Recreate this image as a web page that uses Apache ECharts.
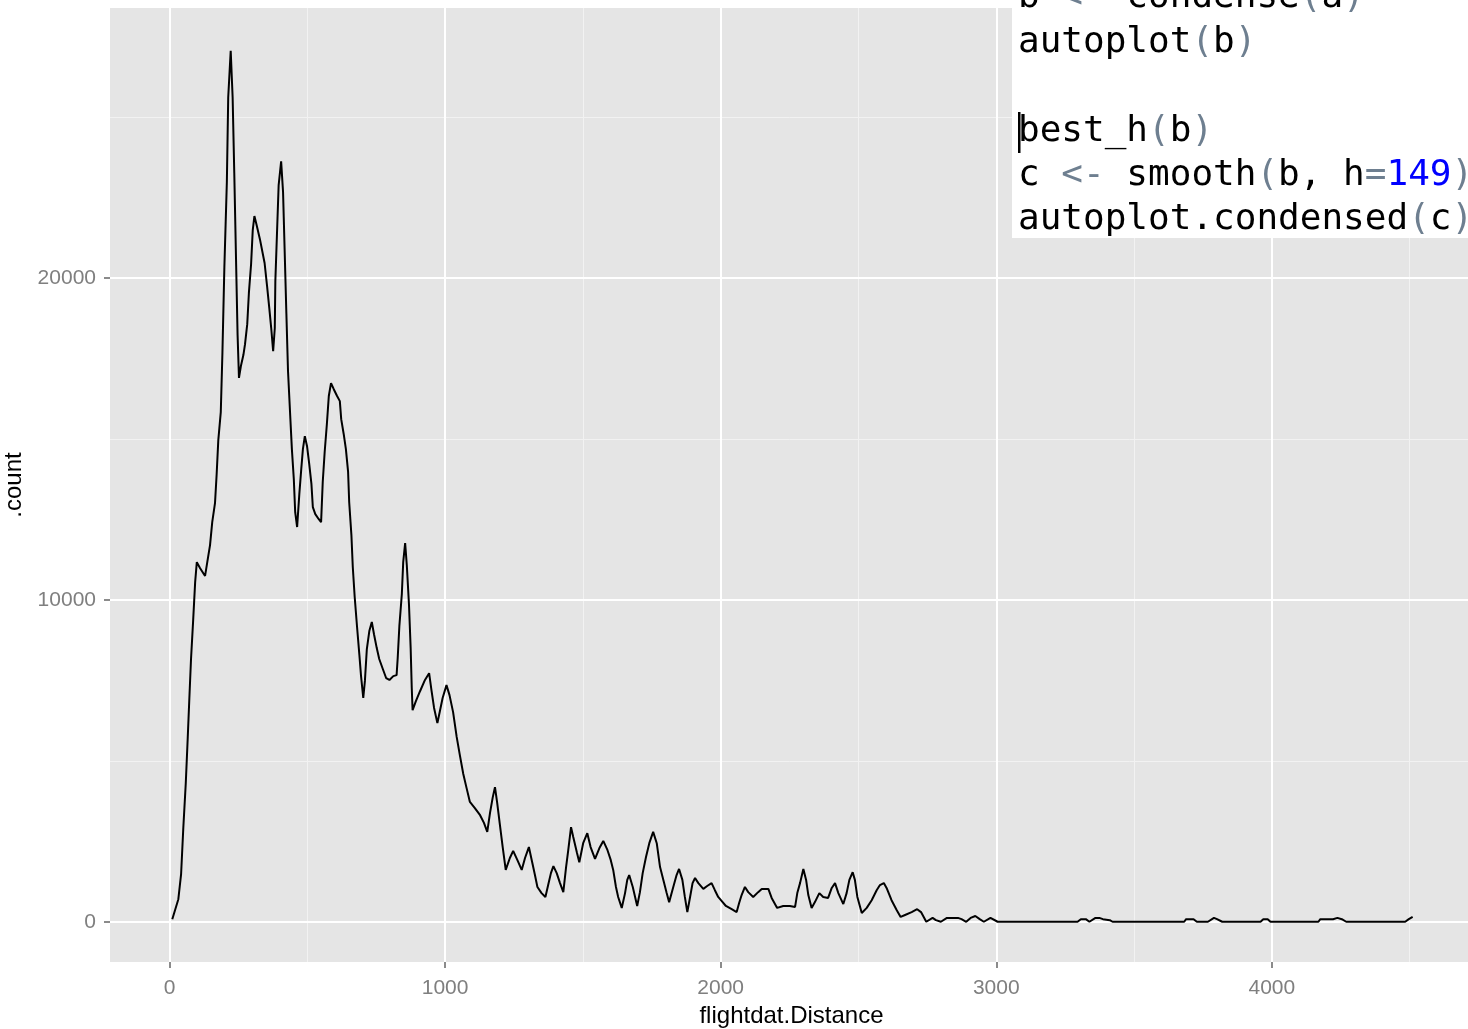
<!DOCTYPE html>
<html><head><meta charset="utf-8">
<script src="https://cdn.jsdelivr.net/npm/echarts@6/dist/echarts.min.js"></script>
<style>html,body{margin:0;padding:0;background:#fff}#c{width:1468px;height:1029px}</style>
</head><body><div id="c"></div>
<script>
// ---- data ----
const distance = [10,32,42,50,59,66,72,78,86,93,99,111,129,137,147,155,165,171,177,186,192,199,208,213,222,229,235,241,247,252,259,268,274,282,288,296,302,308,316,328,345,354,362,369,376,382,384,390,396,405,412,418,424,430,438,444,451,456,463,471,478,484,491,499,507,515,520,529,541,550,556,563,571,578,586,596,608,618,623,632,640,648,652,660,665,672,680,689,695,703,709,716,725,734,742,752,761,774,786,798,812,824,828,834,843,848,855,861,869,875,879,882,894,909,927,942,951,960,972,981,991,1005,1016,1029,1042,1054,1066,1078,1090,1108,1127,1141,1153,1163,1173,1181,1189,1199,1209,1220,1235,1247,1262,1278,1290,1304,1316,1326,1335,1350,1364,1374,1384,1393,1405,1417,1429,1439,1447,1457,1465,1478,1487,1501,1516,1528,1544,1560,1574,1589,1601,1610,1620,1628,1641,1653,1661,1668,1681,1697,1707,1717,1729,1741,1755,1768,1780,1792,1804,1813,1828,1840,1849,1861,1870,1879,1889,1898,1907,1919,1937,1951,1967,1979,1991,2004,2019,2040,2058,2067,2076,2088,2100,2118,2136,2149,2173,2185,2205,2227,2251,2270,2278,2288,2300,2310,2318,2330,2342,2358,2372,2390,2403,2415,2427,2445,2457,2467,2479,2487,2496,2512,2530,2548,2566,2578,2592,2602,2620,2639,2653,2669,2693,2713,2727,2746,2769,2781,2799,2821,2861,2874,2891,2907,2924,2940,2955,2979,3005,3295,3307,3325,3338,3360,3374,3387,3412,3422,3682,3689,3716,3728,3768,3790,3801,3820,3959,3969,3985,3995,4169,4176,4222,4238,4254,4270,4484,4497,4511];
const count = [80,700,1480,2910,4310,5700,6950,8160,9400,10550,11170,10980,10740,11170,11700,12410,13000,13900,14960,15830,17690,20330,22970,25610,27050,25610,23250,20710,18220,16890,17260,17600,17940,18560,19530,20430,21480,21920,21640,21200,20460,19740,19060,18440,17720,18440,19900,21390,22880,23620,22660,20770,18900,17100,15710,14680,13750,12720,12260,13280,14060,14680,15080,14770,14210,13590,12880,12660,12510,12410,13660,14590,15460,16330,16730,16540,16330,16170,15610,15150,14680,13970,13030,12010,11020,10080,9210,8280,7630,6950,7480,8470,9030,9310,8930,8500,8160,7850,7570,7510,7630,7660,8190,9180,10180,11170,11760,11080,9840,8500,7260,6570,6850,7160,7510,7720,7160,6640,6170,6540,6950,7350,7040,6510,5740,5150,4590,4150,3720,3530,3310,3070,2790,3380,3870,4180,3690,3000,2320,1610,1980,2200,1920,1610,1980,2320,1850,1450,1080,890,770,1140,1510,1730,1510,1200,920,1700,2230,2940,2630,2160,1850,2440,2750,2320,1950,2290,2510,2230,1920,1610,1080,770,430,890,1300,1450,1080,490,920,1510,2010,2440,2790,2440,1700,1300,890,610,1080,1450,1640,1300,770,300,770,1200,1360,1200,1020,1110,1200,980,770,640,490,390,300,580,830,1080,920,770,920,1020,1020,740,430,490,490,460,890,1200,1640,1300,830,430,610,890,770,740,1050,1200,890,550,890,1300,1540,1300,770,270,430,670,980,1140,1200,1050,670,360,150,210,300,390,300,0,120,50,0,120,120,80,0,120,180,80,0,120,0,0,80,80,0,120,120,80,50,0,0,80,80,0,0,120,80,0,0,80,80,0,0,80,80,120,80,0,0,80,150];
const xMajorTicks = [0, 1000, 2000, 3000, 4000];
const xMinorTicks = [500, 1500, 2500, 3500, 4500];
const yMajorTicks = [0, 10000, 20000];
const yMinorTicks = [5000, 15000, 25000];
const xTitle = 'flightdat.Distance';
const yTitle = '.count';
// code overlay lines (rich-text markup: n = plain, p = punctuation, b = number)
const codeLines = [
  '{n|b }{p|<-}{n| condense}{p|(}{n|a}{p|)}',
  '{n|autoplot}{p|(}{n|b}{p|)}',
  '',
  '{n|best_h}{p|(}{n|b}{p|)}',
  '{n|c }{p|<-}{n| smooth}{p|(}{n|b, h}{p|=}{b|149}{p|)}',
  '{n|autoplot.condensed}{p|(}{n|c}{p|)}'
];

const chart = echarts.init(document.getElementById('c'), null, {renderer: 'canvas'});
const sans = 'Liberation Sans, Arial, sans-serif';
const mono = 'DejaVu Sans Mono, Liberation Mono, monospace';
const tickGrey = '#7F7F7F';

const gridLines = [];
xMinorTicks.forEach(v => gridLines.push({xAxis: v, lineStyle: {color: '#F2F2F2', width: 1, type: 'solid'}}));
yMinorTicks.forEach(v => gridLines.push({yAxis: v, lineStyle: {color: '#F2F2F2', width: 1, type: 'solid'}}));
xMajorTicks.forEach(v => gridLines.push({xAxis: v, lineStyle: {color: '#FFFFFF', width: 2, type: 'solid'}}));
yMajorTicks.forEach(v => gridLines.push({yAxis: v, lineStyle: {color: '#FFFFFF', width: 2, type: 'solid'}}));

const richStyles = {
  n: {fill: '#000000', fontSize: 36, fontFamily: mono},
  p: {fill: '#6E7F90', fontSize: 36, fontFamily: mono},
  b: {fill: '#0000FF', fontSize: 36, fontFamily: mono}
};
const lineY = [-2, 43, 88, 132, 176, 220];
const graphics = [
  {type: 'rect', z: 100, shape: {x: 1012, y: 0, width: 470, height: 238}, style: {fill: '#FFFFFF'}}
];
codeLines.forEach((t, i) => {
  if (!t) return;
  graphics.push({type: 'text', z: 101, x: 1018, y: lineY[i],
    style: {text: t, rich: richStyles, fontSize: 36, fontFamily: mono, fill: '#000', verticalAlign: 'middle', align: 'left'}});
});
graphics.push({type: 'rect', z: 102, shape: {x: 1018, y: 112, width: 2.5, height: 41}, style: {fill: '#000000'}});

chart.setOption({
  animation: false,
  backgroundColor: '#FFFFFF',
  grid: {left: 110, top: 8, width: 1363, height: 954, show: true, backgroundColor: '#E5E5E5', borderWidth: 0, containLabel: false, outerBoundsMode: 'none'},
  xAxis: {
    type: 'value', min: -216, max: 4730,
    name: xTitle, nameLocation: 'middle', nameGap: 42,
    nameTextStyle: {fontSize: 24, color: '#000', fontFamily: sans},
    axisLine: {show: true, onZero: false, lineStyle: {color: '#E5E5E5', width: 0.01, opacity: 0}},
    axisTick: {show: true, inside: false, length: 6, customValues: xMajorTicks, lineStyle: {color: '#666666', width: 1.5, opacity: 1}},
    axisLabel: {show: true, customValues: xMajorTicks, fontSize: 21, color: tickGrey, fontFamily: sans, margin: 16, formatter: v => String(v)},
    splitLine: {show: false}
  },
  yAxis: {
    type: 'value', min: -1250, max: 28380,
    name: yTitle, nameLocation: 'middle', nameGap: 72, nameRotate: 90,
    nameTextStyle: {fontSize: 24, color: '#000', fontFamily: sans},
    axisLine: {show: true, onZero: false, lineStyle: {color: '#E5E5E5', width: 0.01, opacity: 0}},
    axisTick: {show: true, inside: false, length: 6, customValues: yMajorTicks, lineStyle: {color: '#666666', width: 1.5, opacity: 1}},
    axisLabel: {show: true, customValues: yMajorTicks, fontSize: 21, color: tickGrey, fontFamily: sans, margin: 14, formatter: v => String(v)},
    splitLine: {show: false}
  },
  series: [
    {type: 'line', data: [], silent: true, z: 1,
     markLine: {silent: true, z: 1, symbol: ['none', 'none'], label: {show: false}, animation: false, data: gridLines}},
    {type: 'line', z: 3, silent: true, showSymbol: false, symbol: 'none',
     lineStyle: {color: '#000000', width: 2}, data: distance.map((d, i) => [d, count[i]])}
  ],
  graphic: graphics
});
</script></body></html>
